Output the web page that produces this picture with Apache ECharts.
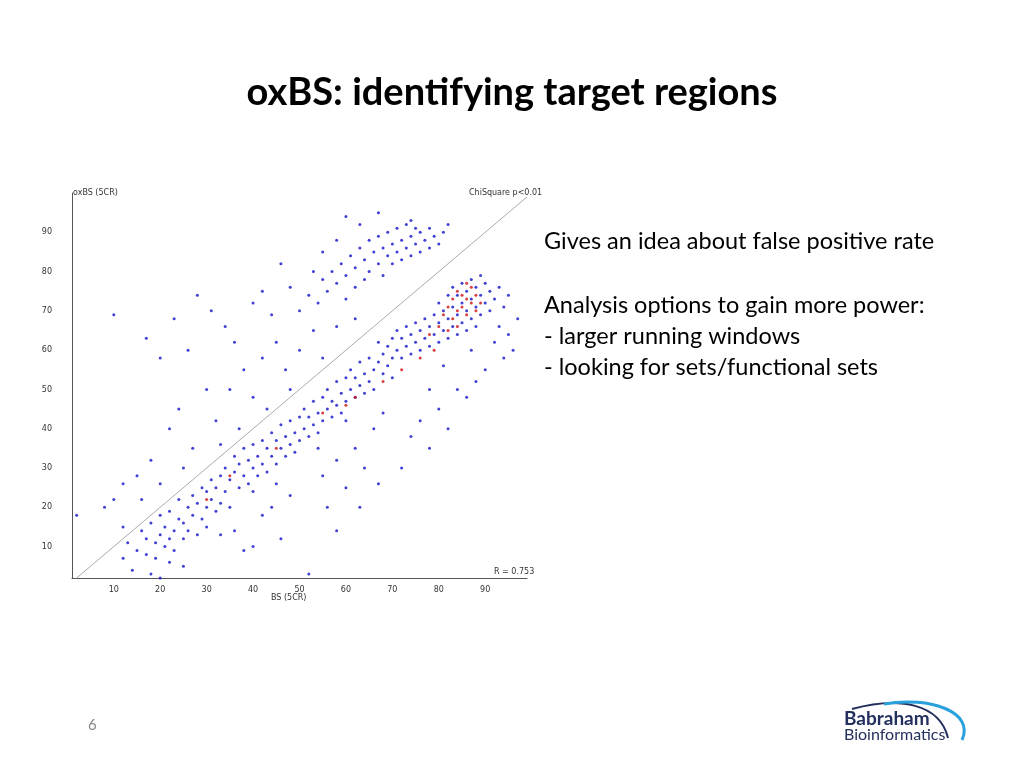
<!DOCTYPE html>
<html>
<head>
<meta charset="UTF-8">
<title>oxBS</title>
<script src="https://cdn.jsdelivr.net/npm/echarts@6/dist/echarts.min.js"></script>
<style>
  html,body{margin:0;height:100%;background:#fff;}
  #container{width:1024px;height:768px;}
</style>
</head>
<body>
<div id="container"></div>
<script>
// x = BS (5CR), y = oxBS (5CR)
var lowBand = [[12,7],[13,11],[15,9],[16,14],[17,8],[17,12],[18,16],[19,11],[19,7],[20,13],[20,18],[21,10],[21,15],[22,12],[22,19],[23,9],[23,14],[24,17],[24,22],[25,12],[25,16],[26,20],[26,14],[27,18],[27,23],[28,13],[28,21],[29,17],[29,25],[30,20],[30,15],[30,24],[14,4],[18,3],[20,2],[22,6],[25,5]];
var midBand = [[31,22],[31,27],[32,19],[32,25],[33,28],[33,21],[34,24],[34,30],[35,27],[35,20],[36,29],[36,33],[37,25],[37,31],[38,28],[38,35],[39,26],[39,32],[40,30],[40,36],[40,24],[41,33],[41,28],[42,37],[42,31],[43,29],[43,35],[44,39],[44,33],[45,31],[45,37],[46,35],[46,41],[47,33],[47,38],[48,36],[48,42],[49,34],[49,39],[50,37],[50,43],[36,14],[40,10],[42,18],[44,20],[46,12],[48,23],[33,13],[38,9],[52,3],[45,26],
  [51,40],[51,45],[52,38],[52,43],[53,41],[53,47],[54,39],[54,44],[55,42],[55,48],[56,45],[56,50],[57,43],[57,47],[58,46],[58,52],[59,44],[59,49],[60,47],[60,53],[60,42],[61,50],[61,55],[62,48],[62,53],[63,51],[63,57],[64,49],[64,54],[65,52],[65,58],[66,55],[66,50],[67,57],[67,62],[68,54],[68,59],[69,56],[69,61],[70,58],[70,63],[70,53],[55,28],[58,32],[62,35],[56,20],[60,25],[64,30],[66,40],[68,44],[58,14],[63,20],[67,26],[54,35]];
var highBand = [[71,60],[71,65],[72,58],[72,63],[73,61],[73,66],[74,59],[74,64],[75,62],[75,67],[76,60],[76,65],[77,63],[77,68],[78,61],[78,66],[79,64],[79,69],[80,62],[80,67],[80,72],[81,65],[81,70],[82,63],[82,68],[82,74],[83,66],[83,71],[83,76],[84,64],[84,69],[84,74],[85,67],[85,72],[85,77],[86,65],[86,70],[86,75],[87,68],[87,73],[87,78],[88,66],[88,71],[88,76],[89,69],[89,74],[89,79],[90,72],[90,77],[91,70],[91,75],[92,73],[93,76],[94,71],[95,74],[92,62],[94,58],[96,60],[90,55],[88,52],[86,48],[93,66],[95,64],[97,68],[78,50],[80,45],[82,40],[76,42],[74,38],[72,30],[78,35],[84,50],[81,56],[87,60]];
var upperCluster = [[50,70],[52,74],[54,72],[55,78],[56,75],[57,80],[58,77],[59,82],[60,79],[60,73],[61,84],[62,81],[62,76],[63,86],[64,83],[64,78],[65,88],[65,80],[66,85],[67,82],[67,89],[68,86],[68,79],[69,84],[69,90],[70,87],[70,82],[71,85],[71,91],[72,88],[72,83],[73,86],[73,92],[74,89],[74,84],[75,87],[75,91],[76,85],[76,90],[77,88],[78,86],[78,91],[79,89],[80,87],[81,90],[82,92],[63,92],[67,95],[60,94],[74,93],[58,88],[55,85],[53,80],[48,76],[46,82],[44,69],[42,75],[40,72]];
var scattered = [[10,69],[17,63],[20,58],[23,68],[26,60],[28,74],[31,70],[34,66],[36,62],[38,55],[40,48],[30,50],[24,45],[22,40],[18,32],[15,28],[12,26],[8,20],[2,18],[27,35],[32,42],[35,50],[42,58],[45,62],[47,55],[50,60],[53,65],[55,58],[43,45],[25,30],[20,26],[12,15],[10,22],[37,40],[48,50],[58,66],[62,68],[16,22],[33,36]];
var significant = [[78,64],[80,66],[81,69],[82,71],[83,68],[83,73],[84,70],[84,75],[85,71],[85,74],[86,69],[86,73],[87,72],[87,76],[88,74],[88,70],[82,65],[79,60],[76,58],[72,55],[68,52],[60,46],[55,44],[45,35],[35,28],[30,22],[62,48],[84,66],[86,77],[89,72]];
var diagonal = [[1,1],[99,99]];
var ticks = [10,20,30,40,50,60,70,80,90];

var blue = [].concat(lowBand, midBand, highBand, upperCluster, scattered);

var chart = echarts.init(document.getElementById('container'));
chart.setOption({
  animation: false,
  backgroundColor: '#fff',
  grid: {left:72, right:497, top:193, bottom:190},
  xAxis: {
    type:'value', min:1, max:99, interval:1,
    axisLine:{lineStyle:{color:'#555'}},
    axisTick:{show:false}, splitLine:{show:false},
    axisLabel:{fontFamily:'DejaVu Sans', fontSize:8, color:'#333', margin:8,
      formatter:function(v){return ticks.indexOf(v)>=0 ? v : '';}, interval:0}
  },
  yAxis: {
    type:'value', min:2, max:100, interval:1,
    axisLine:{lineStyle:{color:'#555'}},
    axisTick:{show:false}, splitLine:{show:false},
    axisLabel:{fontFamily:'DejaVu Sans', fontSize:8, color:'#333', margin:20,
      formatter:function(v){return ticks.indexOf(v)>=0 ? v : '';}, interval:0}
  },
  series: [
    {type:'line', data:diagonal, symbol:'none', lineStyle:{color:'#aaa', width:1}},
    {type:'scatter', data:blue, symbolSize:3, itemStyle:{color:'#1010c8'}},
    {type:'scatter', data:significant, symbolSize:3, itemStyle:{color:'#d01010'}}
  ],
  graphic: [
    {type:'text', left:'center', top:74, style:{text:'oxBS: identifying target regions', font:'bold 38px Lato', fill:'#000'}},
    {type:'text', left:73, top:189, style:{text:'oxBS (5CR)', font:'8px DejaVu Sans', fill:'#333'}},
    {type:'text', left:469, top:189, style:{text:'ChiSquare p<0.01', font:'8px DejaVu Sans', fill:'#333'}},
    {type:'text', left:494, top:568, style:{text:'R = 0.753', font:'8px DejaVu Sans', fill:'#333'}},
    {type:'text', left:271, top:594, style:{text:'BS (5CR)', font:'8px DejaVu Sans', fill:'#333'}},
    {type:'text', left:544, top:229, style:{text:'Gives an idea about false positive rate', font:'23.5px Lato', fill:'#000'}},
    {type:'text', left:544, top:290, style:{text:'Analysis options to gain more power:\n- larger running windows\n- looking for sets/functional sets', font:'23.5px Lato', fill:'#000', lineHeight:31}},
    {type:'text', left:88, top:718, style:{text:'6', font:'15px Lato', fill:'#888'}},
    {type:'bezierCurve', shape:{x1:852, y1:709, cpx1:900, cpy1:696, x2:948, y2:738, cpx2:940, cpy2:704}, style:{stroke:'#23305e', lineWidth:2, fill:null}},
    {type:'bezierCurve', shape:{x1:884, y1:704, cpx1:930, cpy1:696, x2:962, y2:740, cpx2:975, cpy2:712}, style:{stroke:'#2aa0dc', lineWidth:3, fill:null}},
    {type:'text', left:844, top:709, style:{text:'Babraham', font:'bold 19px Lato', fill:'#23305e'}},
    {type:'text', left:844, top:727, style:{text:'Bioinformatics', font:'16px Lato', fill:'#23305e'}}
  ]
});
</script>
</body>
</html>
